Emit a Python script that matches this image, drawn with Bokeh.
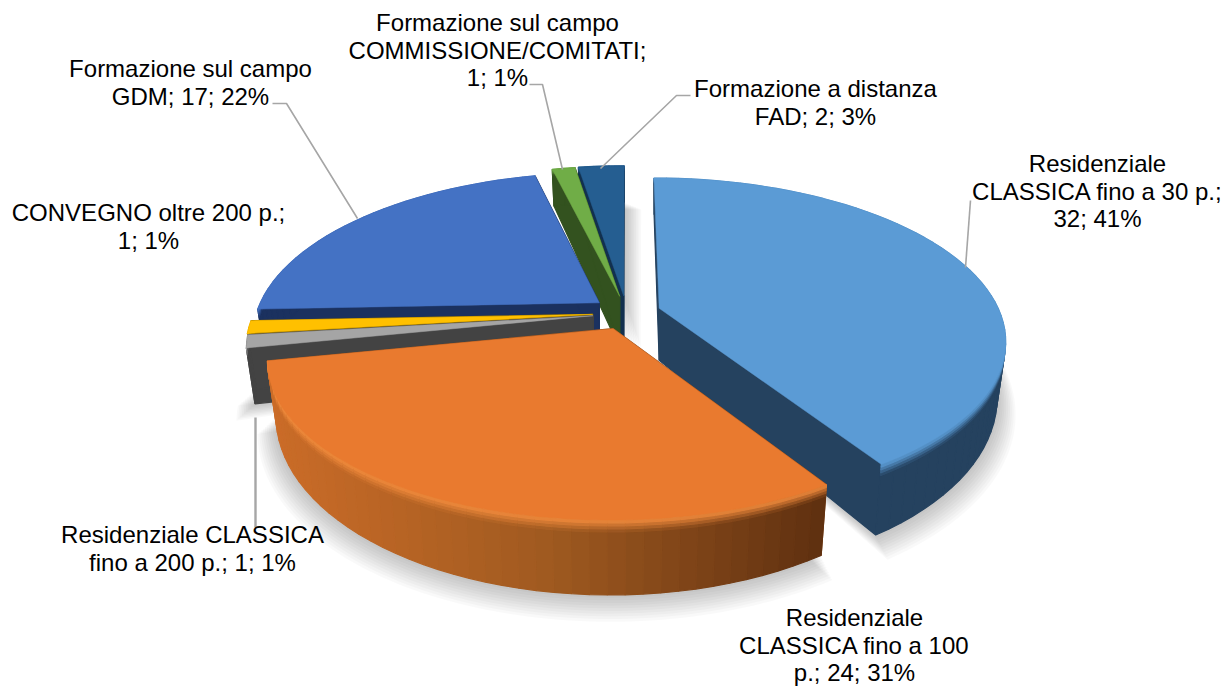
import numpy as np
from bokeh.plotting import figure
from bokeh.models import Range1d
from bokeh.core.properties import value
from bokeh.embed import file_html
from bokeh.resources import INLINE

categories = ["Residenziale CLASSICA fino a 30 p.", "Residenziale CLASSICA fino a 100 p.",
              "Residenziale CLASSICA fino a 200 p.", "CONVEGNO oltre 200 p.",
              "Formazione sul campo GDM", "Formazione sul campo COMMISSIONE/COMITATI",
              "Formazione a distanza FAD"]
values = [32, 24, 1, 1, 17, 1, 2]
top_colors = ["#5b9bd5", "#e97a2f", "#a5a5a5", "#ffc000", "#4472c4", "#70ad47", "#255e91"]
side_colors = ["#25425f", "#8a4a1c", "#434343", "#7f6000", "#1b315f", "#33521f", "#12304f"]
label_lines = [["Residenziale", "CLASSICA fino a 30 p.;", "32; 41%"],
               ["Residenziale", "CLASSICA fino a 100", "p.; 24; 31%"],
               ["Residenziale CLASSICA", "fino a 200 p.; 1; 1%"],
               ["CONVEGNO oltre 200 p.;", "1; 1%"],
               ["Formazione sul campo", "GDM; 17; 22%"],
               ["Formazione sul campo", "COMMISSIONE/COMITATI;", "1; 1%"],
               ["Formazione a distanza", "FAD; 2; 3%"]]

# layout (picture pixels)
label_cx = [1097, 854, 192, 148, 190, 497, 815]
label_y0 = [163, 617, 534, 212, 68, 22, 88]
LINE_H = 27.6
leaders = [([965, 970], [267, 200], 1.6),
           ([255, 255], [417, 527], 2.4),
           ([357, 286, 272], [218, 103, 103], 1.6),
           ([562, 542, 529], [169, 84, 84], 1.6),
           ([600, 676, 690], [168, 95, 95], 1.6)]
CX, CY, EX, EY = 626, 312.5, 34, 17
R, RY, K, H = 339, 155, 0.19, 52
FX, FY = 0.975, 1.12

p = figure(width=1228, height=686, x_range=Range1d(0, 1228), y_range=Range1d(686, 0),
           toolbar_location=None, output_backend="svg", min_border=0)
p.axis.visible = False
p.grid.visible = False
p.outline_line_color = None
p.background_fill_color = "white"
p.border_fill_color = "white"

total = sum(values)
edges = np.radians(np.concatenate([[0], np.cumsum(values)])) * 360 / total


def rel(th, ax):
    s = 1 / (1 + K * np.cos(th))
    return R * np.sin(th) * s + (ax - CX) * (s - 1), -RY * np.cos(th) * s


def top(th, ax, ay):
    dx, dy = rel(th, ax)
    return ax + dx, ay + dy


def bot(th, ax, ay):
    dx, dy = rel(th, ax)
    return ax + FX * dx, ay + H + FY * dy


def mix(a, b, t):
    ca = [int(a[i:i + 2], 16) for i in (1, 3, 5)]
    cb = [int(b[i:i + 2], 16) for i in (1, 3, 5)]
    return "#%02x%02x%02x" % tuple(int(round(u + (v - u) * t)) for u, v in zip(ca, cb))


def quad(x, y, c):
    p.patch(x, y, fill_color=c, line_color=c, line_width=1.2)


def wall_color(i, x, t):
    if i == 1:
        f = np.clip((x - 265) / (825 - 265), 0, 1)
        base = mix("#cb6c28", "#a05a20", f / 0.5) if f < 0.5 else mix("#a05a20", "#5f3010", (f - 0.5) / 0.5)
        rim = "#f08a3c"
    else:
        base = side_colors[i]
        rim = top_colors[i]
    return mix(rim, base, min(t / 0.16, 1))


apex = []
for i in range(len(values)):
    mid = (edges[i] + edges[i + 1]) / 2
    apex.append((CX + EX * np.sin(mid), CY - EY * np.cos(mid)))

# soft shadow under the slices
for i, sx in ((6, 1.7), (0, 0.0), (1, 0.0), (2, 0.0)):
    ax, ay = apex[i]
    ths = np.linspace(edges[i], edges[i + 1], 80)
    for n in range(1, 11):
        g = 1 + n * 0.0055
        bx, by = bot(ths, ax, ay)
        xs = np.concatenate([[ax], ax + (bx - ax) * g]) + sx * n
        ys = np.concatenate([[ay + H], ay + H + (by - ay - H) * g + 1.5 * n])
        p.patch(xs, ys, fill_color="#000000", fill_alpha=0.022, line_color=None)

rows = np.array([0, 0.04, 0.08, 0.12, 0.16, 1.0])
for i in (6, 5, 4, 3, 2, 0, 1):
    ax, ay = apex[i]
    a0, a1 = edges[i], edges[i + 1]
    for th in (a0, a1):
        tx, ty = top(th, ax, ay)
        bx, by = bot(th, ax, ay)
        quad([ax, tx, bx, ax], [ay, ty, by, ay + H], side_colors[i])
    n = max(int((a1 - a0) / np.radians(2.5)), 2)
    ths = np.linspace(a0, a1, n + 1)
    for j in range(n):
        th0, th1 = ths[j], ths[j + 1]
        t0x, t0y = top(th0, ax, ay)
        t1x, t1y = top(th1, ax, ay)
        b0x, b0y = bot(th0, ax, ay)
        b1x, b1y = bot(th1, ax, ay)
        for r in range(len(rows) - 2, -1, -1):
            u, w = rows[r], rows[r + 1]
            xs = [t0x + (b0x - t0x) * u, t1x + (b1x - t1x) * u, t1x + (b1x - t1x) * w, t0x + (b0x - t0x) * w]
            ys = [t0y + (b0y - t0y) * u, t1y + (b1y - t1y) * u, t1y + (b1y - t1y) * w, t0y + (b0y - t0y) * w]
            quad(xs, ys, wall_color(i, (t0x + t1x) / 2, (u + w) / 2))
    tha = np.linspace(a0, a1, 120)
    tx, ty = top(tha, ax, ay)
    p.patch(np.concatenate([[ax], tx]), np.concatenate([[ay], ty]),
            fill_color=top_colors[i], line_color=top_colors[i], line_width=0.5)

for xs, ys, lw in leaders:
    p.line(xs, ys, line_color="#a6a6a6", line_width=lw)

tx, ty, tt = [], [], []
for lines, cx, y0 in zip(label_lines, label_cx, label_y0):
    for n, s in enumerate(lines):
        tx.append(cx)
        ty.append(y0 + n * LINE_H)
        tt.append(s)
p.text(tx, ty, text=tt, text_align="center", text_baseline="middle",
       text_font=value("Liberation Sans"), text_font_size="24px", text_color="#000000")

open("out.html", "w").write(file_html(p, INLINE))
